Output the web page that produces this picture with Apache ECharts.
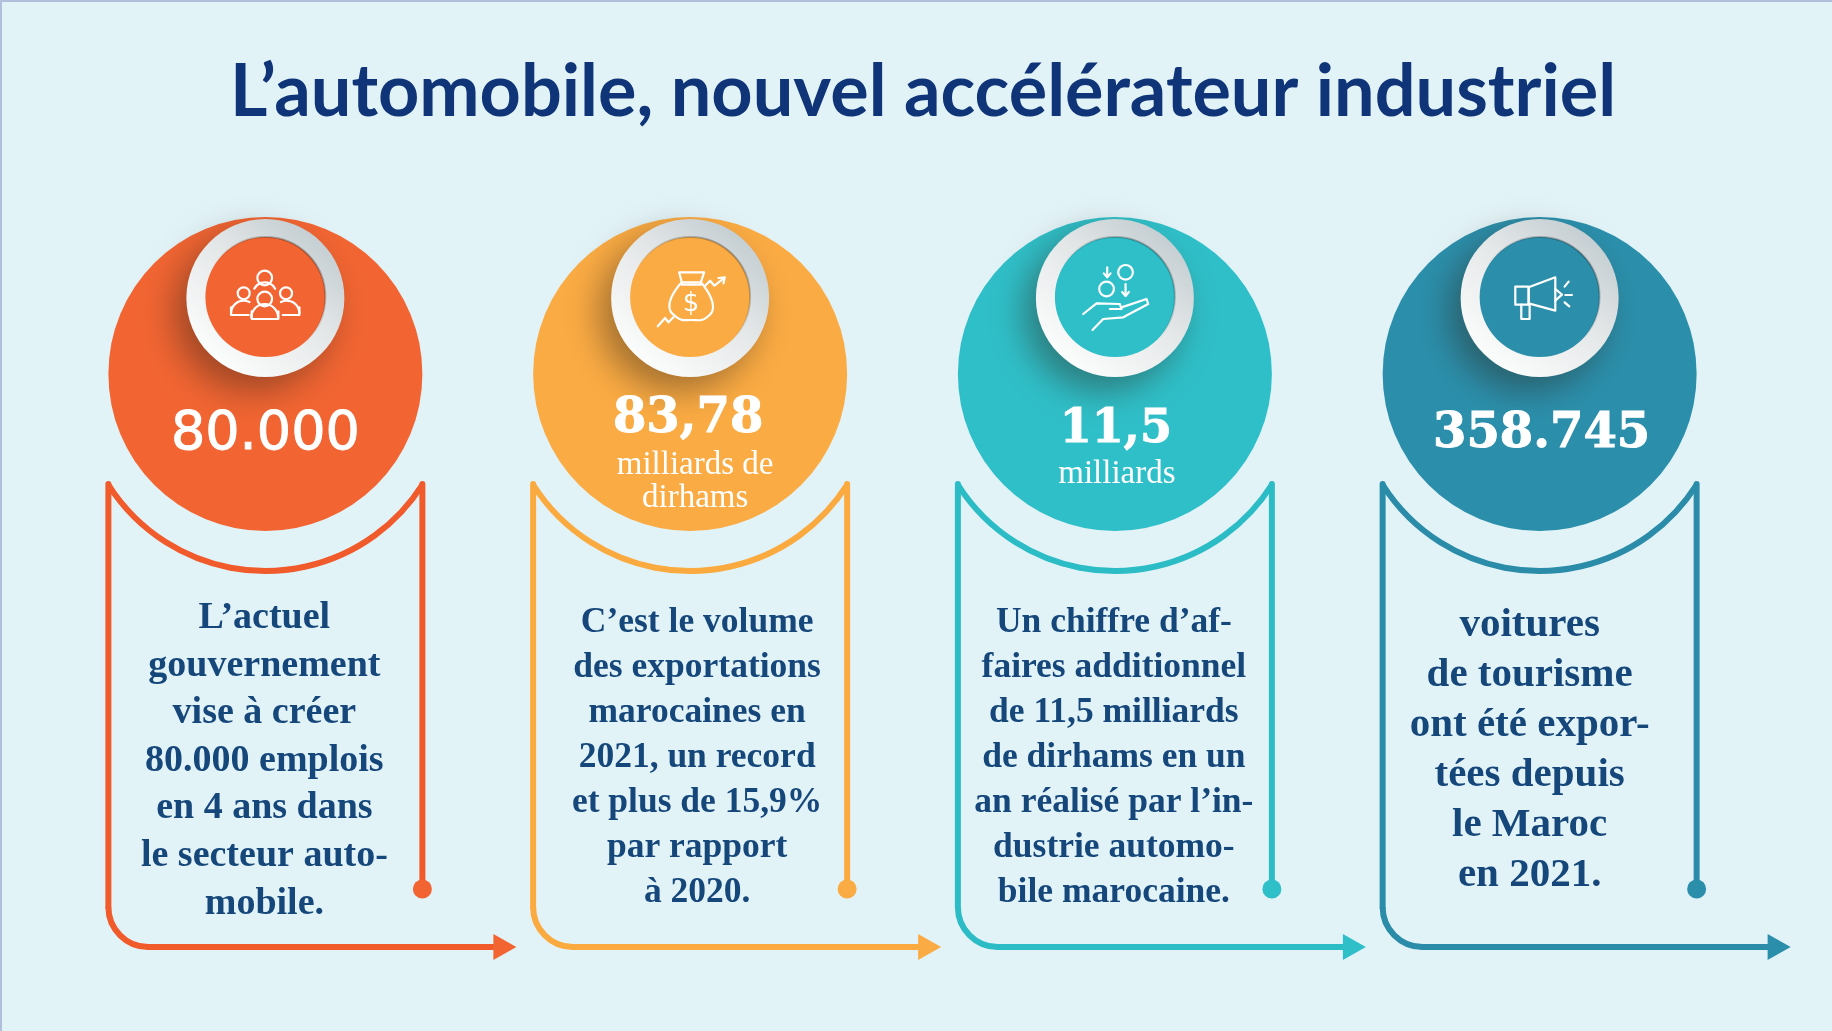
<!DOCTYPE html>
<html>
<head>
<meta charset="utf-8">
<title>L’automobile, nouvel accélérateur industriel</title>
<script src="https://cdn.jsdelivr.net/npm/echarts@6/dist/echarts.min.js"></script>
<style>
html, body { margin: 0; padding: 0; background: #e2f3f7; }
#J-chart { width: 1832px; height: 1031px; }
body::after {
    content: '';
    position: absolute;
    left: 0;
    top: 0;
    width: 1830px;
    height: 1029px;
    border-left: 2px solid #b0bfdc;
    border-top: 2px solid #b0bfdc;
    pointer-events: none;
}
</style>
</head>
<body>
<div id="J-chart"></div>
<script>
const categories = ['Emplois', 'Exportations', 'Chiffre d’affaires', 'Voitures'];
const statValues = [80000, 83.78, 11.5, 358745];
const statLabels = ['80.000', '83,78', '11,5', '358.745'];
const statUnits = ['', 'milliards de\ndirhams', 'milliards', ''];
const bodyTexts = [
    'L’actuel\ngouvernement\nvise à créer\n80.000 emplois\nen 4 ans dans\nle secteur auto-\nmobile.',
    'C’est le volume\ndes exportations\nmarocaines en\n2021, un record\net plus de 15,9%\npar rapport\nà 2020.',
    'Un chiffre d’af-\nfaires additionnel\nde 11,5 milliards\nde dirhams en un\nan réalisé par l’in-\ndustrie automo-\nbile marocaine.',
    'voitures\nde tourisme\nont été expor-\ntées depuis\nle Maroc\nen 2021.'
];

const COLORS = ['#f26532', '#fbab43', '#2fbfc8', '#2b8fab'];
const LINE_COLORS = ['#f15a2b', '#fbaa3f', '#2bbcc6', '#2a8ca9'];
const INK = '#15477b';

// layout, one entry per card
const statY = [435, 420, 430, 435];
const statDx = [0, -2, 1, 2];
const statFont = [
    '400 54px "DejaVu Sans"',
    '700 48px "DejaVu Serif"',
    '700 46px "DejaVu Serif"',
    '700 48px "DejaVu Serif"'
];
const unitY = [0, 482, 474, 0];
const unitDx = [0, 5, 2, 0];
const bodyY = [761, 758, 758, 750];
const bodyDx = [-1, 7, -1, -10];
const bodyFontSize = [38, 35.5, 35.5, 41];
const bodyLine = [47.6, 45, 45, 50];

// icons drawn in local units, 3 units = 1px, origin at the ring centre
const iconLines = [
    [
        [[-103, 28], [-103, 51], [-50, 51]], [[52, 51], [102, 51], [102, 28]],
        [[-41, 40], [-41, 63], [39, 63], [39, 40]]
    ],
    [
        [[-33, -77], [42, -77], [32, -47], [-25, -47], [-33, -77]],
        [[-25, -40], [32, -40]],
        [[45, -37], [60, -52], [73, -37], [102, -60]],
        [[85, -60], [104, -62], [100, -44]],
        [[-97, 85], [-75, 60], [-65, 73], [-50, 58]]
    ],
    [
        [[-23, -92], [-23, -64]], [[-33, -74], [-23, -62], [-13, -74]],
        [[32, -42], [32, -8]], [[22, -18], [32, -6], [42, -18]],
        [[-95, 48], [-55, 16], [15, 18], [20, 33], [-15, 33]],
        [[20, 28], [95, 3], [100, 18], [25, 58], [-35, 63], [-67, 96]]
    ],
    [
        [[-33, -32], [47, -62], [47, 38], [-33, 16], [-33, -32]],
        [[-73, -34], [-33, -34], [-33, 20], [-73, 20], [-73, -34]],
        [[-55, 20], [-55, 63], [-30, 63], [-30, 20]],
        [[47, -27], [67, -10], [47, 8]],
        [[75, -34], [87, -49]], [[77, -9], [97, -9]], [[75, 13], [89, 25]]
    ]
];
const iconCurves = [
    [],
    [[[-25, -47], [-62, 18], [-40, 58], [3, 66], [50, 58], [68, 18], [32, -47]]],
    [],
    []
];
const iconCircles = [
    [[-2, -60, 22], [-65, -14, 18], [62, -14, 18], [-2, 3, 22]],
    [],
    [[32, -77, 22], [-25, -27, 22]],
    []
];
const iconArcs = [
    [
        [-2, 58, 40, Math.PI, 0], [-65, 46, 38, Math.PI, 1.65 * Math.PI],
        [64, 46, 38, 1.35 * Math.PI, 0], [-2, -12, 35, 1.15 * Math.PI, 1.85 * Math.PI]
    ],
    [],
    [],
    []
];

const DISC_Y = 374;
const RING_Y = 298;

function line(x1, y1, x2, y2, color, w) {
    return {
        type: 'line',
        shape: { x1: x1, y1: y1, x2: x2, y2: y2 },
        style: { stroke: color, lineWidth: w, lineCap: 'round', fill: null }
    };
}

function arc(cx, cy, r, a0, a1, color, w) {
    return {
        type: 'arc',
        shape: { cx: cx, cy: cy, r: r, startAngle: a0, endAngle: a1, clockwise: true },
        style: { stroke: color, lineWidth: w, fill: null, lineCap: 'butt' }
    };
}

function renderFrame(params, api) {
    const i = params.dataIndex;
    const x = api.coord([i, 0])[0];
    const c = LINE_COLORS[i];
    const left = x - 157;
    const right = x + 157;
    const bottom = 947;
    const r = 40;
    // U shaped curve under the disc
    const curveR = 186;
    const curveAngle = Math.asin(157 / curveR);
    return {
        type: 'group',
        children: [
            arc(x, 571 - curveR, curveR, Math.PI / 2 - curveAngle, Math.PI / 2 + curveAngle, c, 6),
            line(left, 484, left, bottom - r, c, 6),
            arc(left + r, bottom - r, r, Math.PI / 2, Math.PI, c, 6),
            line(left + r, bottom, x + 230, bottom, c, 6),
            {
                type: 'polygon',
                shape: { points: [[x + 228, bottom - 13], [x + 251, bottom], [x + 228, bottom + 13]] },
                style: { fill: COLORS[i] }
            },
            line(right, 484, right, 885, c, 6),
            { type: 'circle', shape: { cx: right, cy: 889, r: 9.5 }, style: { fill: COLORS[i] } }
        ]
    };
}

function renderRing(params, api) {
    const i = params.dataIndex;
    const x = api.coord([i, 0])[0];
    const y = RING_Y;
    const children = [
        {
            type: 'circle',
            shape: { cx: x, cy: y, r: 79 },
            style: {
                fill: new echarts.graphic.LinearGradient(0.85, 0.1, 0.2, 0.9, [
                    { offset: 0, color: '#c3cdd1' },
                    { offset: 0.45, color: '#e4e7e8' },
                    { offset: 1, color: '#fbfcfc' }
                ]),
                shadowBlur: 34,
                shadowOffsetX: -12,
                shadowOffsetY: 14,
                shadowColor: 'rgba(40,30,20,0.42)'
            }
        },
        {
            type: 'circle',
            shape: { cx: x, cy: y - 1, r: 60 },
            style: {
                fill: COLORS[i],
                stroke: new echarts.graphic.LinearGradient(0.85, 0.1, 0.2, 0.9, [
                    { offset: 0, color: 'rgba(0,0,0,0.3)' },
                    { offset: 0.6, color: 'rgba(0,0,0,0)' }
                ]),
                lineWidth: 2
            }
        }
    ];
    const ICON = { stroke: '#fff', lineWidth: 2.2, fill: null, lineJoin: 'round', lineCap: 'round' };
    iconLines[i].forEach(function (pts) {
        children.push({
            type: 'polyline',
            shape: { points: pts.map(function (p) { return [x + p[0] / 3, y + p[1] / 3]; }) },
            style: ICON
        });
    });
    iconCurves[i].forEach(function (pts) {
        children.push({
            type: 'polyline',
            shape: { smooth: 0.5, points: pts.map(function (p) { return [x + p[0] / 3, y + p[1] / 3]; }) },
            style: ICON
        });
    });
    iconCircles[i].forEach(function (p) {
        children.push({
            type: 'circle',
            shape: { cx: x + p[0] / 3, cy: y + p[1] / 3, r: p[2] / 3 },
            style: ICON
        });
    });
    iconArcs[i].forEach(function (p) {
        children.push({
            type: 'arc',
            shape: { cx: x + p[0] / 3, cy: y + p[1] / 3, r: p[2] / 3, startAngle: p[3], endAngle: p[4], clockwise: true },
            style: ICON
        });
    });
    if (i === 1) {
        children.push({
            type: 'text',
            style: { text: '$', x: x + 1, y: y + 6, align: 'center', verticalAlign: 'middle', fill: '#fff', font: '400 26px "DejaVu Sans"' }
        });
    }
    return { type: 'group', children: children };
}

function renderText(params, api) {
    const i = params.dataIndex;
    const x = api.coord([i, 0])[0];
    const children = [
        {
            type: 'text',
            style: {
                text: statLabels[i], x: x + statDx[i], y: statY[i],
                align: 'center', verticalAlign: 'middle', fill: '#fff', font: statFont[i],
                stroke: '#fff', lineWidth: 1
            }
        },
        {
            type: 'text',
            style: {
                text: bodyTexts[i], x: x + bodyDx[i], y: bodyY[i],
                align: 'center', verticalAlign: 'middle', fill: INK,
                font: '700 ' + bodyFontSize[i] + 'px "Liberation Serif"',
                lineHeight: bodyLine[i]
            }
        }
    ];
    if (statUnits[i]) {
        children.push({
            type: 'text',
            style: {
                text: statUnits[i], x: x + unitDx[i], y: unitY[i],
                align: 'center', verticalAlign: 'middle', fill: '#fff',
                font: '400 33px "Liberation Serif"', lineHeight: 33
            }
        });
    }
    return { type: 'group', children: children };
}

const rows = categories.map(function (c, i) { return [c, DISC_Y, statValues[i]]; });

const option = {
    animation: false,
    backgroundColor: '#e2f3f7',
    title: {
        text: 'L’automobile, nouvel accélérateur industriel',
        left: 918,
        top: 52,
        textAlign: 'center',
        textStyle: { color: '#0f3578', fontFamily: 'Lato', fontWeight: 700, fontSize: 72 }
    },
    grid: { left: 53, top: 0, width: 1699, height: 1031 },
    xAxis: { type: 'category', data: categories, show: false },
    yAxis: { type: 'value', min: 0, max: 1031, inverse: true, show: false },
    series: [
        {
            name: 'Cadres', type: 'custom', data: rows, renderItem: renderFrame, silent: true, z: 1,
            encode: { x: 0, y: 1 }, clip: false
        },
        {
            name: 'Chiffres', type: 'scatter', data: rows, symbol: 'circle', symbolSize: 314, silent: true, z: 2,
            encode: { x: 0, y: 1 },
            itemStyle: { opacity: 1, color: function (p) { return COLORS[p.dataIndex]; } }
        },
        {
            name: 'Anneaux', type: 'custom', data: rows, renderItem: renderRing, silent: true, z: 3,
            encode: { x: 0, y: 1 }, clip: false
        },
        {
            name: 'Textes', type: 'custom', data: rows, renderItem: renderText, silent: true, z: 4,
            encode: { x: 0, y: 1 }, clip: false
        }
    ]
};

const chart = echarts.init(document.getElementById('J-chart'));
chart.setOption(option);
</script>
</body>
</html>
